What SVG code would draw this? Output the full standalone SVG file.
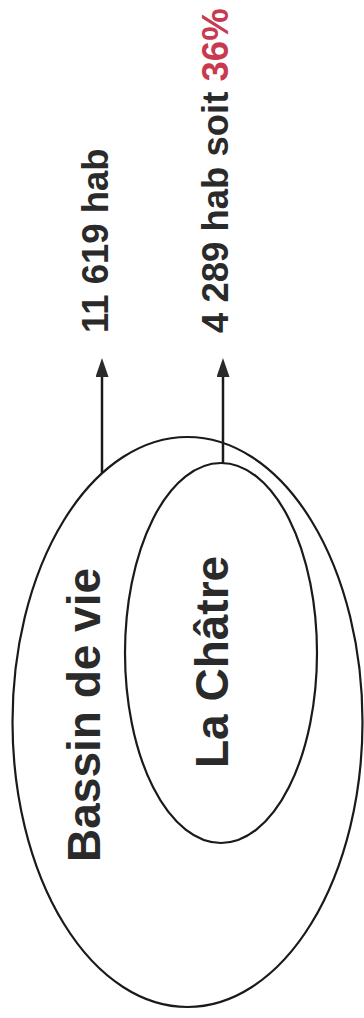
<svg xmlns="http://www.w3.org/2000/svg" width="364" height="1018" viewBox="0 0 364 1018">
<style>
.shape{fill:none;stroke:#1a1a1a;stroke-width:2.2}
.conn{fill:none;stroke:#1a1a1a;stroke-width:2.5}
.lbl{font-family:"Liberation Sans",Arial,sans-serif;font-weight:bold;fill:#2a2a2a}
.big{font-size:46px}
.val{font-size:36.5px}
.red{fill:#c73a50}
</style>
<defs>
<marker id="arr" viewBox="0 0 19 13" refX="2" refY="6.5" markerWidth="19" markerHeight="13" markerUnits="userSpaceOnUse" orient="auto">
<polygon points="0,0 19,6.5 0,13" fill="#2a2a2a"/>
</marker>
</defs>
<rect width="364" height="1018" fill="#ffffff"/>
<g id="bassin">
<ellipse class="shape" cx="187.5" cy="722" rx="175" ry="285"/>
<text class="lbl big" transform="translate(100,862) rotate(-90)">Bassin de vie</text>
</g>
<g id="lachatre">
<ellipse class="shape" cx="221" cy="653" rx="96" ry="190"/>
<text class="lbl big" transform="translate(228,768) rotate(-90)">La Châtre</text>
</g>
<g id="label-bassin">
<text class="lbl val" transform="translate(108,333) rotate(-90)">11 619 hab</text>
</g>
<g id="label-chatre">
<text class="lbl val" transform="translate(228,333) rotate(-90)">4 289 hab soit <tspan class="red">36%</tspan></text>
</g>
<g id="connectors">
<line class="conn" x1="102" y1="473" x2="102" y2="375" marker-end="url(#arr)"/>
<line class="conn" x1="223" y1="463" x2="223" y2="375" marker-end="url(#arr)"/>
</g>
</svg>
